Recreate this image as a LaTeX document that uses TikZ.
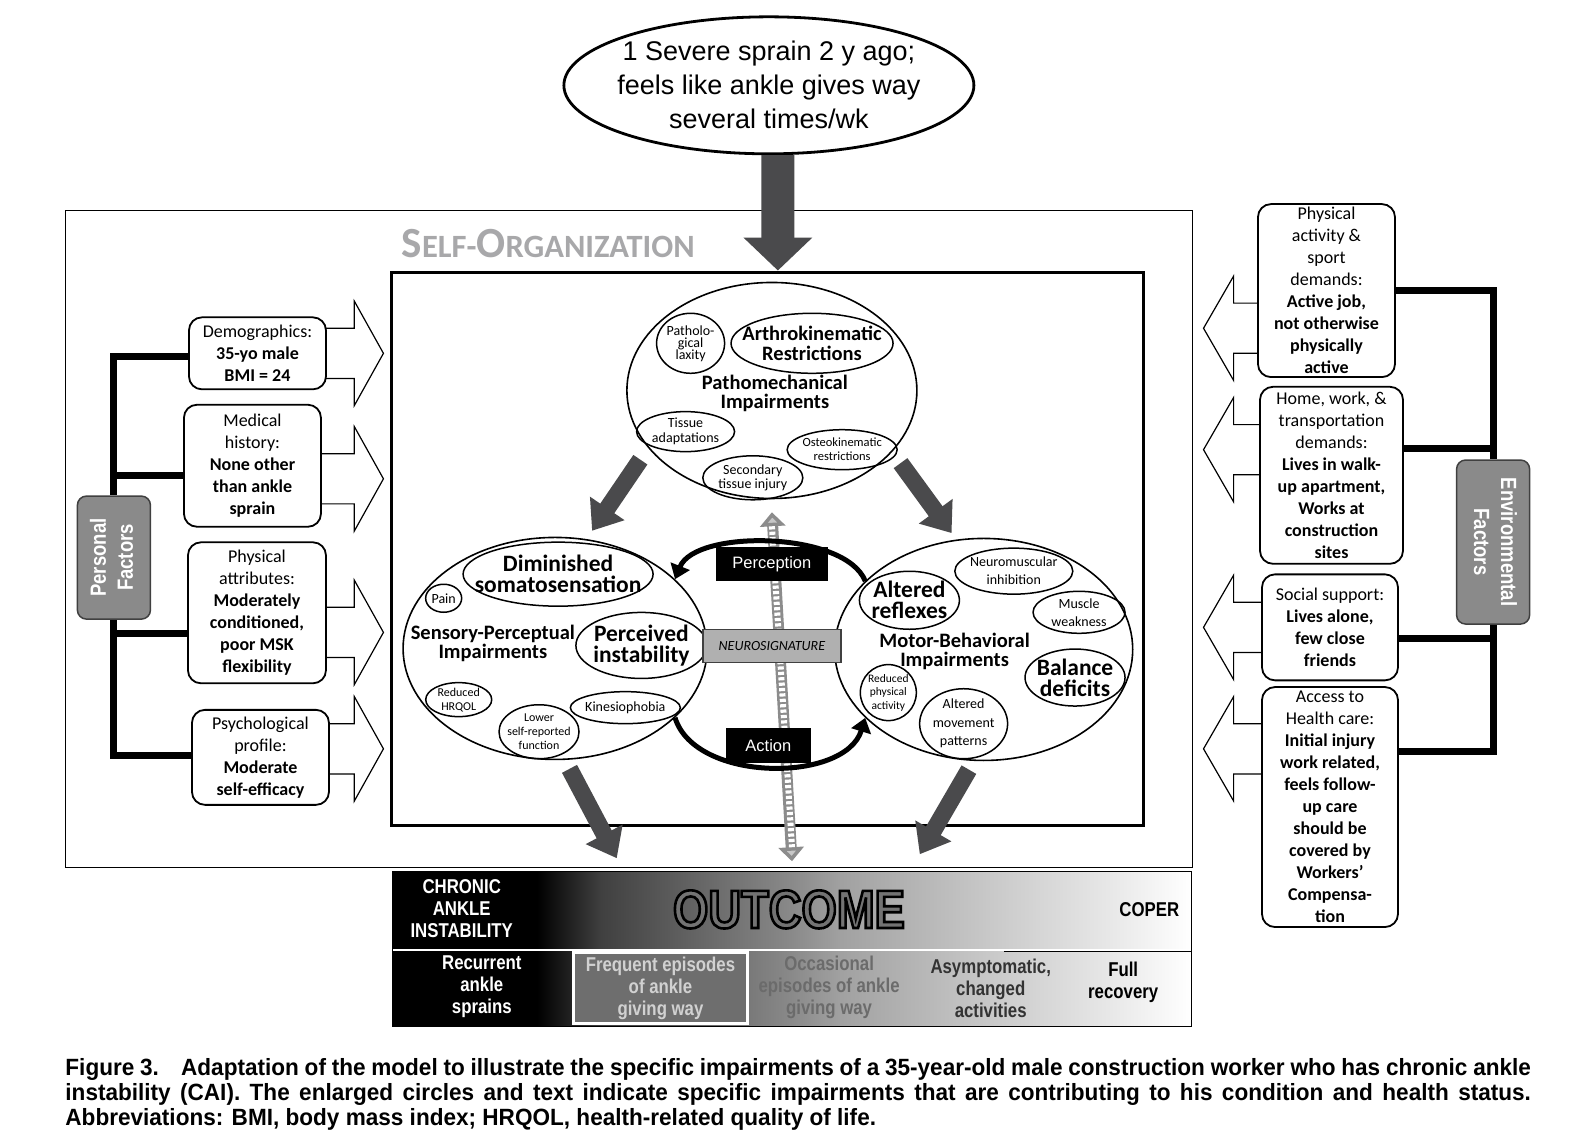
\documentclass[tikz,border=0pt]{standalone}
\usepackage{fontspec}
\setmainfont{Carlito}
\newfontfamily\arialfont{Liberation Sans}
\newfontfamily\narrowfont[FakeStretch=0.84]{Liberation Sans}
\newfontfamily\capfont[FakeStretch=0.96]{Liberation Sans}
\usetikzlibrary{shapes.geometric,arrows.meta,positioning,calc}

\newcommand\setfs[2]{\fontsize{#1}{#2}\selectfont\lineskiplimit=-30pt\relax}

\definecolor{arrowgray}{HTML}{4A4A4C}
\definecolor{tabgray}{HTML}{8A8A8A}
\definecolor{titlegray}{HTML}{A8A8AA}

\pgfdeclarehorizontalshading{outshade}{100bp}{color(0bp)=(black); color(34bp)=(black); color(38bp)=(black!75); color(50bp)=(black!46); color(53bp)=(black!37); color(62bp)=(black!22); color(70bp)=(black!9); color(75bp)=(white); color(100bp)=(white)}

\tikzset{
  factor/.style={draw, line width=1.8pt, rounded corners=13pt, fill=white, align=center, inner sep=0pt, font=\setfs{18}{22}},
  tab/.style={draw=black!75, line width=1.5pt, rounded corners=9pt, fill=tabgray, text=white, inner sep=0pt, font=\narrowfont\bfseries\fontsize{22}{27}\selectfont},
  spine/.style={line width=7pt},
  hollow/.style={draw, line width=1.2pt, fill=white},
  bigoval/.style={ellipse, draw, line width=1.6pt, inner sep=0pt},
  oval/.style={ellipse, draw, line width=1.5pt, inner sep=-30pt, align=center},
  heavy/.style={font=\bfseries\setfs{23.5}{21}},
  medium/.style={font=\bfseries\setfs{20.5}{19.5}},
  fatarrow/.style={draw=arrowgray, line width=17pt, -{Triangle[width=40pt,length=27pt]}},
  loopy/.style={line width=5pt, -{Triangle[width=20pt,length=14pt]}},
  blackbox/.style={fill=black, text=white, inner sep=0pt, font=\arialfont\setfs{16.5}{18}},
  outtext/.style={font=\narrowfont\bfseries\setfs{20}{22}, align=center},
  bigword/.style={font=\narrowfont\bfseries\setfs{54}{54}}
}

\begin{document}
\begin{tikzpicture}[x=1bp,y=-1bp]
        \useasboundingbox (0,0) rectangle (1568.1,1132.7);
        \fill[white] (0,0) rectangle (1568.1,1132.7);

        % Initial injury
        \node[ellipse, draw, line width=2.8pt, minimum width=410pt, minimum height=137pt, inner sep=-30pt, align=center, font=\arialfont\setfs{27}{34}] (sprain) at (766,85) {1 Severe sprain 2 y ago;\\feels like ankle gives way\\several times/wk};

        % Self-organization frame
        \draw[line width=1.2pt] (65,210) rectangle (1188,864);
        \node[draw, line width=3pt, minimum width=752pt, minimum height=553pt, inner sep=0pt] (core) at (765,546.5) {};
        \node[anchor=base west, inner sep=0pt, text=titlegray, font=\bfseries] (selforg) at (400,257) {{\setfs{43}{43}S}{\setfs{32.5}{32.5}ELF-}{\setfs{43}{43}O}{\setfs{32.5}{32.5}RGANIZATION}};
        \draw[draw=arrowgray, line width=33pt, -{Triangle[width=67pt,length=33pt]}] ([xshift=9pt]sprain.south) -- ([xshift=10pt]core.north);

        % Personal factors (hollow arrows first, boxes on top)
        \foreach \y in {352,477,630,746}
          \draw[hollow] (300,\y-25) -- (353,\y-25) -- (353,\y-52) -- (382,\y) -- (353,\y+52) -- (353,\y+25) -- (300,\y+25);
        \node[factor, minimum width=137pt, minimum height=72pt] (demo) at (256.5,352) {Demographics:\\\textbf{35-yo male}\\\textbf{BMI = 24}};
        \node[factor, minimum width=137pt, minimum height=122pt] (medical) at (251.5,464) {Medical\\history:\\\textbf{None other}\\\textbf{than ankle}\\\textbf{sprain}};
        \node[factor, minimum width=138pt, minimum height=141pt] (physattr) at (256,610.5) {Physical\\attributes:\\\textbf{Moderately}\\\textbf{conditioned,}\\\textbf{poor MSK}\\\textbf{flexibility}};
        \node[factor, minimum width=137pt, minimum height=95pt] (psych) at (259.5,754.5) {Psychological\\profile:\\\textbf{Moderate}\\\textbf{self-efficacy}};
        \node[tab, minimum width=73pt, minimum height=123pt] (pf) at (113.5,555.5) {\rotatebox{90}{\begin{tabular}{@{}c@{}}Personal\\Factors\end{tabular}}};
        \draw[spine] ([yshift=-3pt]demo.west) -| (pf.north);
        \draw[spine] ([yshift=-10pt]medical.west) -| (pf.north);
        \draw[spine] ([yshift=-21pt]physattr.west) -| (pf.south);
        \draw[spine] ([yshift=2pt]psych.west) -| (pf.south);

        % Environmental factors
        \foreach \y in {327,448,625,746}
          \draw[hollow] (1290,\y-25) -- (1229,\y-25) -- (1229,\y-52) -- (1199,\y) -- (1229,\y+52) -- (1229,\y+25) -- (1290,\y+25);
        \node[factor, minimum width=137pt, minimum height=173pt] (sport) at (1321.5,289.5) {Physical\\activity \&\\sport\\demands:\\\textbf{Active job,}\\\textbf{not otherwise}\\\textbf{physically}\\\textbf{active}};
        \node[factor, minimum width=143pt, minimum height=177pt] (home) at (1326.5,473.5) {Home, work, \&\\transportation\\demands:\\\textbf{Lives in walk-}\\\textbf{up apartment,}\\\textbf{Works at}\\\textbf{construction}\\\textbf{sites}};
        \node[factor, minimum width=136pt, minimum height=106pt] (social) at (1325,625) {Social support:\\\textbf{Lives alone,}\\\textbf{few close}\\\textbf{friends}};
        \node[factor, minimum width=136pt, minimum height=240pt] (care) at (1325,804) {Access to\\Health care:\\\textbf{Initial injury}\\\textbf{work related,}\\\textbf{feels follow-}\\\textbf{up care}\\\textbf{should be}\\\textbf{covered by}\\\textbf{Workers’}\\\textbf{Compensa-}\\\textbf{tion}};
        \node[tab, minimum width=73pt, minimum height=164pt] (ef) at (1487.5,540) {\rotatebox{-90}{\begin{tabular}{@{}c@{}}Environmental\\Factors\end{tabular}}};
        \draw[spine] (sport.east) -| (ef.north);
        \draw[spine] ([yshift=27pt]home.east) -| (ef.north);
        \draw[spine] ([yshift=-11pt]social.east) -| (ef.south);
        \draw[spine] ([yshift=56pt]care.east) -| (ef.south);

        % Pathomechanical impairments
        \node[bigoval, minimum width=290pt, minimum height=216pt] (pm) at (769,389) {};
        \node[oval, minimum width=68pt, minimum height=60pt, font=\setfs{14}{12}] (laxity) at (688,342) {Patholo-\\gical\\laxity};
        \node[oval, minimum width=162pt, minimum height=60pt, medium] (arthro) at (809,342) {Arthrokinematic\\Restrictions};
        \node[medium, align=center, inner sep=0pt] (pmlab) at (772,392) {Pathomechanical\\Impairments};
        \node[oval, minimum width=98pt, minimum height=40pt, font=\setfs{14}{15}] (tissue) at (683,430) {Tissue\\adaptations};
        \node[oval, minimum width=110pt, minimum height=40pt, font=\setfs{12.5}{14}] (osteo) at (839,448) {Osteokinematic\\restrictions};
        \node[oval, minimum width=100pt, minimum height=44pt, font=\setfs{14}{14}] (secondary) at (750,476) {Secondary\\tissue injury};

        % Sensory-perceptual impairments
        \node[bigoval, minimum width=304pt, minimum height=222pt] (sp) at (553,646) {};
        \node[oval, minimum width=190pt, minimum height=64pt, heavy] (somato) at (556,572) {Diminished\\somatosensation};
        \node[oval, minimum width=36pt, minimum height=28pt, font=\setfs{14}{14}] (pain) at (442,596) {Pain};
        \node[medium, align=center, inner sep=0pt] (splab) at (491,641) {Sensory-Perceptual\\Impairments};
        \node[oval, minimum width=131pt, minimum height=66pt, heavy] (unstable) at (639,643) {Perceived\\instability};
        \node[oval, minimum width=66pt, minimum height=34pt, font=\setfs{12}{14}] (hrqol) at (457,697) {Reduced\\HRQOL};
        \node[oval, minimum width=80pt, minimum height=54pt, font=\setfs{12}{14}] (lower) at (537,729) {Lower\\self-reported\\function};
        \node[oval, minimum width=110pt, minimum height=32pt, font=\setfs{14}{14}] (kinesio) at (623,705) {Kinesiophobia};

        % Motor-behavioral impairments
        \node[bigoval, minimum width=298pt, minimum height=222pt] (mb) at (980,647) {};
        \node[oval, minimum width=100pt, minimum height=58pt, heavy] (reflex) at (906,598) {Altered\\reflexes};
        \node[oval, minimum width=118pt, minimum height=46pt, font=\setfs{14}{18}] (inhib) at (1010,569) {Neuromuscular\\inhibition};
        \node[oval, minimum width=92pt, minimum height=42pt, font=\setfs{14}{18}] (weak) at (1075,610) {Muscle\\weakness};
        \node[medium, align=center, inner sep=0pt] (mblab) at (951,649) {Motor-Behavioral\\Impairments};
        \node[oval, minimum width=100pt, minimum height=57pt, heavy] (balance) at (1071,675) {Balance\\deficits};
        \node[oval, minimum width=56pt, minimum height=56pt, font=\setfs{11.5}{13.5}] (rpa) at (885,690) {Reduced\\physical\\activity};
        \node[oval, minimum width=88pt, minimum height=70pt, font=\setfs{14}{18.5}] (movement) at (960,721) {Altered\\movement\\patterns};

        % Outcome bars
        \node[shade, shading=outshade, minimum width=798pt, minimum height=77pt, inner sep=0pt] (outbar) at (789,906.5) {};
        \node[shade, shading=outshade, minimum width=798pt, minimum height=75pt, inner sep=0pt] (stagebar) at (789,985) {};
        \draw[line width=1.2pt] (outbar.north west) rectangle (stagebar.south east);
        \draw[line width=0.8pt] (stagebar.north -| 1000,0) -- (stagebar.north east);

        % Perception-action loop
        \draw[line width=11pt, draw=black!45, {Triangle[width=25pt,length=14pt,fill=black!22]}-{Triangle[width=25pt,length=14pt,fill=black!22]}] ([yshift=-13pt]pm.south) -- ([yshift=10pt]outbar.north);
        \draw[line width=6pt, white, dash pattern=on 3.2pt off 2.2pt] ([yshift=-27pt]pm.south) -- ([yshift=24pt]outbar.north);
        \draw[loopy] (mb.150) .. controls +(-20,-50) and +(20,-50) .. (sp.30);
        \draw[loopy] (sp.-30) .. controls +(20,65) and +(-20,65) .. (mb.-150);
        \node[blackbox, minimum width=112pt, minimum height=34pt] (perception) at (769,562) {Perception};
        \node[blackbox, minimum width=85pt, minimum height=35pt] (action) at (765.5,742.5) {Action};
        \node[draw=black!75, line width=1.3pt, fill=black!31, minimum width=138pt, minimum height=33pt, inner sep=0pt, font=\itshape\setfs{14}{14}] (neurosig) at (769,643.5) {NEUROSIGNATURE};

        % Flow between impairments and to outcome
        \draw[fatarrow, shorten <=14pt, shorten >=10pt] (pm.205) -- (sp.74);
        \draw[fatarrow, shorten <=14pt, shorten >=8pt] (pm.333) -- (mb.104);
        \draw[fatarrow, shorten <=10pt] (sp.-85) -- ([xshift=224pt,yshift=13pt]outbar.north west);
        \draw[fatarrow, shorten <=10pt] (mb.-95) -- ([xshift=527pt,yshift=17pt]outbar.north west);

        % Outcome labels
        \node[outtext, text=white] (cai) at (460,905) {CHRONIC\\ANKLE\\INSTABILITY};
        \node[bigword, text=black!55] (outcome) at (786,906) {\special{pdf:literal direct 2 Tr 2.6 w 0 0 0 RG}OUTCOME\special{pdf:literal direct 0 Tr 1 w}};
        \node[outtext] (coper) at (1145,906) {COPER};
        \node[outtext, text=white] (recurrent) at (480,983) {Recurrent\\ankle\\sprains};
        \node[outtext, draw=white, line width=3pt, fill=black!57, minimum width=174pt, minimum height=71pt, inner sep=0pt, text=black!18] (frequent) at (658,984.5) {Frequent episodes\\of ankle\\giving way};
        \node[outtext, text=black!58] (occasional) at (826,984) {Occasional\\episodes of ankle\\giving way};
        \node[outtext, text=black!80] (asymptomatic) at (987,985) {Asymptomatic,\\changed\\activities};
        \node[outtext] (recovery) at (1119,979) {Full\\recovery};

        % Caption
        \node[anchor=north west, inner sep=0pt, align=left, font=\capfont\bfseries\setfs{23.5}{25}] (caption) at (65,1054) {\makebox[1460bp][s]{Figure 3.\hspace{14pt} Adaptation of the model to illustrate the specific impairments of a 35-year-old male construction worker who has chronic ankle}\\\makebox[1460bp][s]{instability (CAI). The enlarged circles and text indicate specific impairments that are contributing to his condition and health status.}\\Abbreviations: BMI, body mass index; HRQOL, health-related quality of life.};
\end{tikzpicture}
\end{document}
